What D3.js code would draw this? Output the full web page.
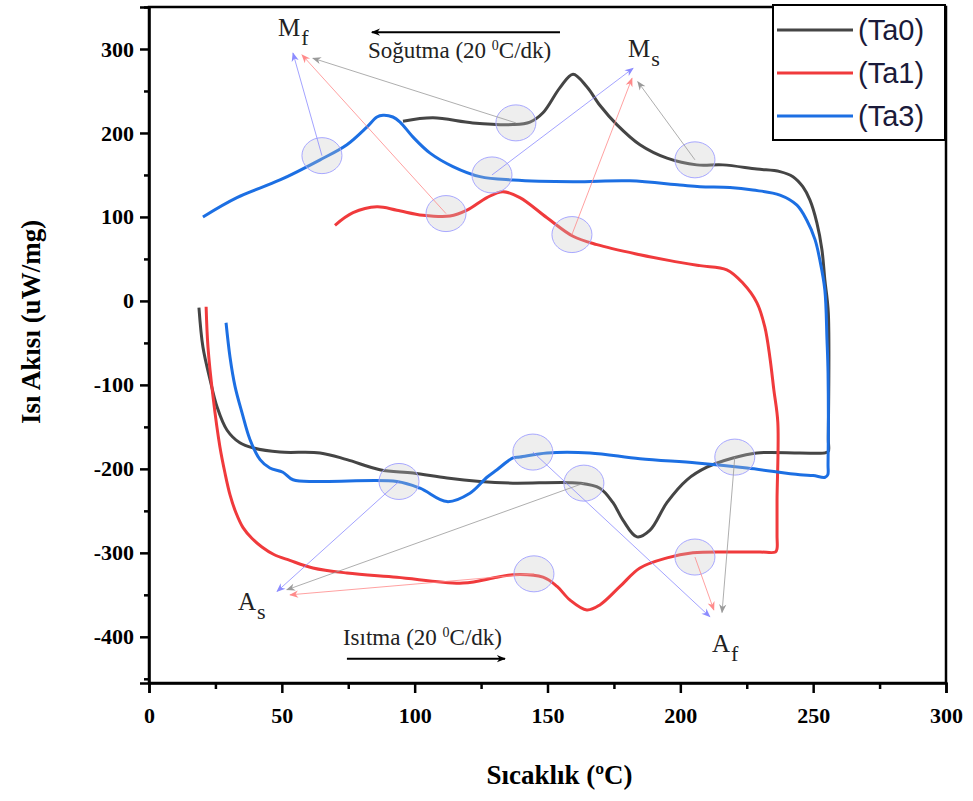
<!DOCTYPE html>
<html>
<head>
<meta charset="utf-8">
<script src="https://cdn.jsdelivr.net/npm/d3@7"></script>
<style>
  body { margin: 0; background: #fff; }
  svg { display: block; }
</style>
</head>
<body>
<script>
// DSC curves: heating run then cooling run, temperature (°C) and heat flow (uW/mg)
const ta0T = [18.8, 20.3, 23.0, 25.6, 29.4, 34.2, 39.1, 49.3, 64.4, 74.5, 86.9, 99.4, 112.2, 124.6, 137.0, 162.2, 169.7, 174.6, 178.4, 183.7, 188.6, 195.0, 202.5, 210.0, 219.8, 228.8, 245.0, 254.5, 255.7, 255.7, 255.7, 254.4, 253.3, 251.4, 248.8, 246.1, 242.4, 237.5, 228.8, 216.0, 206.2, 195.0, 184.8, 176.1, 169.7, 164.8, 159.6, 154.7, 148.3, 143.4, 137.0, 121.9, 106.9, 95.6];
const ta0H = [-8, -55, -94, -126, -154, -169, -175, -180, -181, -189, -201, -205, -211, -215, -217, -217, -223, -240, -261, -281, -273, -240, -213, -198, -187, -181, -181, -181, -179, -165, -14, 25, 61, 93, 120, 136, 148, 154, 157, 162, 162, 170, 186, 210, 233, 255, 270, 254, 224, 213, 210, 212, 218, 214];

const ta1T = [21.5, 22.2, 24.1, 26.7, 28.6, 30.5, 32.7, 35.4, 38.8, 42.5, 47.0, 53.0, 61.7, 74.5, 93.3, 118.2, 131.0, 137.0, 148.3, 153.6, 158.4, 164.8, 169.7, 177.3, 184.8, 195.0, 204.7, 218.7, 230.0, 235.8, 236.4, 236.4, 236.4, 236.7, 235.2, 233.7, 231.8, 228.8, 223.6, 217.5, 207.4, 196.1, 184.8, 168.6, 159.6, 149.8, 139.6, 133.2, 127.2, 119.7, 113.3, 103.1, 93.3, 85.8, 76.8, 70.0];
const ta1H = [-7, -55, -114, -174, -205, -231, -252, -270, -283, -293, -302, -309, -318, -324, -329, -336, -329, -326, -329, -340, -356, -368, -362, -340, -318, -306, -300, -299, -299, -299, -295, -280, -237, -145, -106, -67, -31, -2, 21, 37, 42, 48, 55, 67, 77, 99, 123, 130, 123, 108, 101, 102, 108, 112, 105, 90];

const ta3T = [29.0, 30.5, 32.4, 35.0, 38.0, 41.8, 45.5, 50.4, 54.2, 64.4, 93.3, 102.0, 112.2, 120.8, 127.2, 131.0, 137.0, 139.6, 149.8, 166.0, 184.8, 206.2, 225.1, 245.0, 250.0, 254.5, 255.5, 255.6, 255.6, 255.2, 254.4, 252.5, 250.7, 247.6, 243.9, 237.5, 227.3, 218.7, 207.4, 199.8, 181.0, 159.6, 137.0, 124.6, 114.4, 105.8, 99.4, 94.5, 91.8, 88.1, 85.8, 82.0, 74.5, 64.4, 49.3, 33.1, 20.3];
const ta3H = [-26, -67, -102, -133, -165, -189, -199, -204, -213, -215, -215, -223, -239, -229, -210, -201, -187, -186, -181, -181, -188, -193, -199, -207, -208, -210, -207, -195, -86, -46, 13, 49, 73, 96, 114, 126, 132, 135, 136, 138, 143, 142, 144, 148, 160, 176, 195, 213, 219, 221, 219, 207, 186, 168, 144, 123, 100];

const seriesNames = ["(Ta0)", "(Ta1)", "(Ta3)"];
const seriesColors = ["#454545", "#f03a3c", "#1c6fe3"];

const xTicks = [0, 50, 100, 150, 200, 250, 300];
const yTicks = [-400, -300, -200, -100, 0, 100, 200, 300];

// highlighted transformation points (circle centre) and where the arrow points
const markT = [65.1, 138.1, 111.8, 129.1, 159.2, 205.5, 94.1, 144.5, 163.7, 144.9, 205.5, 220.5];
const markH = [173, 212, 104, 150, 79, 168, -215, -180, -217, -325, -305, -186];
const markSeries = [2, 0, 1, 2, 1, 0, 2, 2, 0, 1, 1, 0];
const tipT = [54.2, 61.7, 57.6, 182.2, 181.8, 184.0, 48.2, 211.1, 51.9, 53.1, 212.6, 215.7];
const tipH = [295, 289, 293, 277, 265, 261, -346, -376, -344, -350, -368, -371];

const labelMain = ["M", "M", "A", "A"];
const labelSub = ["f", "s", "s", "f"];
const labelT = [48.6, 180.3, 33.5, 211.9];
const labelH = [316, 290, -368, -418];

const W = 973, H = 801;
const margin = { left: 149, right: 27, top: 7, bottom: 118 };

const svg = d3.select("body").append("svg")
    .attr("width", W)
    .attr("height", H);

const x = d3.scaleLinear().domain([0, 300]).range([margin.left, W - margin.right]);
const y = d3.scaleLinear().domain([-455, 350]).range([H - margin.bottom, margin.top]);

const serif = "'Liberation Serif', 'Times New Roman', serif";

// frame
svg.append("rect")
    .attr("x", x(0)).attr("y", y(350))
    .attr("width", x(300) - x(0)).attr("height", y(-455) - y(350))
    .attr("fill", "none").attr("stroke", "#000").attr("stroke-width", 2.5);

// axes
const xAxis = svg.append("g")
    .attr("transform", `translate(0,${y(-455)})`)
    .call(d3.axisBottom(x).tickValues(xTicks).tickSize(10).tickPadding(14).tickFormat(d => String(d)));
svg.append("g")
    .attr("transform", `translate(0,${y(-455)})`)
    .call(d3.axisBottom(x).tickValues(d3.range(25, 300, 50)).tickSize(6).tickFormat(""))
    .call(g => g.select(".domain").remove());

const yAxis = svg.append("g")
    .attr("transform", `translate(${x(0)},0)`)
    .call(d3.axisLeft(y).tickValues(yTicks).tickSize(9).tickPadding(6).tickFormat(d => String(d)));
svg.append("g")
    .attr("transform", `translate(${x(0)},0)`)
    .call(d3.axisLeft(y).tickValues(d3.range(-450, 351, 100)).tickSize(5).tickFormat(""))
    .call(g => g.select(".domain").remove());

svg.selectAll(".domain").attr("stroke-width", 2.5);
svg.selectAll(".tick line").attr("stroke-width", 2.5);
xAxis.selectAll("text")
    .attr("font-family", serif).attr("font-weight", "bold").attr("font-size", 22);
yAxis.selectAll("text")
    .attr("font-family", serif).attr("font-weight", "bold").attr("font-size", 22);

svg.append("text")
    .attr("x", (x(0) + x(300)) / 2 + 12).attr("y", 784)
    .attr("text-anchor", "middle")
    .attr("font-family", serif).attr("font-weight", "bold").attr("font-size", 27)
    .text("Sıcaklık (ºC)");

svg.append("text")
    .attr("transform", `translate(40,${y(-25)}) rotate(-90)`)
    .attr("text-anchor", "middle")
    .attr("font-family", serif).attr("font-weight", "bold").attr("font-size", 27)
    .text("Isı Akısı (uW/mg)");

// curves
const curves = [[ta0T, ta0H], [ta1T, ta1H], [ta3T, ta3H]].map(([ts, hs]) => ts.map((t, i) => [t, hs[i]]));
const line = d3.line().x(d => x(d[0])).y(d => y(d[1])).curve(d3.curveCatmullRom.alpha(0.5));

svg.append("g")
    .selectAll("path")
    .data(curves)
    .join("path")
    .attr("d", line)
    .attr("fill", "none")
    .attr("stroke", (d, i) => seriesColors[i])
    .attr("stroke-width", 3)
    .attr("stroke-linejoin", "round");

// arrow markers for annotation lines
const arrowColors = ["#9a9a9a", "#ff8a8a", "#8c8cff"];
const defs = svg.append("defs");
arrowColors.forEach((c, i) => {
  defs.append("marker")
      .attr("id", "ah" + i)
      .attr("viewBox", "0 0 10 10")
      .attr("refX", 9).attr("refY", 5)
      .attr("markerWidth", 11).attr("markerHeight", 9)
      .attr("markerUnits", "userSpaceOnUse")
      .attr("orient", "auto")
    .append("path")
      .attr("d", "M0,1 L10,5 L0,9 L3,5 Z")
      .attr("fill", c);
});

const marks = markT.map((t, i) => ({ t, h: markH[i], s: markSeries[i], tt: tipT[i], th: tipH[i] }));

svg.append("g")
    .selectAll("ellipse")
    .data(marks)
    .join("ellipse")
    .attr("cx", d => x(d.t)).attr("cy", d => y(d.h))
    .attr("rx", 20).attr("ry", 18)
    .attr("fill", "rgba(200,200,200,0.3)")
    .attr("stroke", "#a8a8ff")
    .attr("stroke-width", 1);

svg.append("g")
    .selectAll("line")
    .data(marks)
    .join("line")
    .attr("x1", d => x(d.t)).attr("y1", d => y(d.h))
    .attr("x2", d => x(d.tt)).attr("y2", d => y(d.th))
    .attr("stroke", d => arrowColors[d.s])
    .attr("stroke-opacity", 0.8)
    .attr("stroke-width", 1)
    .attr("marker-end", d => `url(#ah${d.s})`);

// M_f, M_s, A_s, A_f labels
labelMain.forEach((m, i) => {
  const t = svg.append("text")
      .attr("x", x(labelT[i])).attr("y", y(labelH[i]))
      .attr("font-family", serif).attr("font-size", 25).attr("fill", "#222");
  t.append("tspan").text(m);
  t.append("tspan").attr("dy", 9).attr("dx", 1).attr("font-size", 22).text(labelSub[i]);
});

// heating / cooling rate notes with arrows
defs.append("marker")
    .attr("id", "blk")
    .attr("viewBox", "0 0 10 10")
    .attr("refX", 9).attr("refY", 5)
    .attr("markerWidth", 14).attr("markerHeight", 9)
    .attr("markerUnits", "userSpaceOnUse")
    .attr("orient", "auto")
  .append("path")
    .attr("d", "M0,1 L10,5 L0,9 L3,5 Z")
    .attr("fill", "#000");

svg.append("line")
    .attr("x1", x(154.7)).attr("x2", x(83.9))
    .attr("y1", y(320)).attr("y2", y(320))
    .attr("stroke", "#000").attr("stroke-width", 2)
    .attr("marker-end", "url(#blk)");

const cool = svg.append("text")
    .attr("x", x(82.4)).attr("y", y(289))
    .attr("font-family", serif).attr("font-size", 23).attr("fill", "#222");
cool.append("tspan").text("Soğutma (20 ");
cool.append("tspan").attr("dy", -8).attr("font-size", 14).text("0");
cool.append("tspan").attr("dy", 8).text("C/dk)");

svg.append("line")
    .attr("x1", x(74.5)).attr("x2", x(134.0))
    .attr("y1", y(-426)).attr("y2", y(-426))
    .attr("stroke", "#000").attr("stroke-width", 2)
    .attr("marker-end", "url(#blk)");

const heat = svg.append("text")
    .attr("x", x(73.0)).attr("y", y(-410))
    .attr("font-family", serif).attr("font-size", 23).attr("fill", "#222");
heat.append("tspan").text("Isıtma (20 ");
heat.append("tspan").attr("dy", -8).attr("font-size", 14).text("0");
heat.append("tspan").attr("dy", 8).text("C/dk)");

// legend
const lg = svg.append("g");
lg.append("rect")
    .attr("x", 773).attr("y", 5).attr("width", 172).attr("height", 135)
    .attr("fill", "#fff").attr("stroke", "#000").attr("stroke-width", 2);
seriesNames.forEach((n, i) => {
  const ly = 30 + i * 43;
  lg.append("line")
      .attr("x1", 777).attr("x2", 853).attr("y1", ly).attr("y2", ly)
      .attr("stroke", seriesColors[i]).attr("stroke-width", 3);
  lg.append("text")
      .attr("x", 858).attr("y", ly + 10)
      .attr("font-family", "'Liberation Sans', Arial, sans-serif")
      .attr("font-size", 29).attr("fill", "#1a1a3a")
      .text(n);
});
</script>
</body>
</html>
